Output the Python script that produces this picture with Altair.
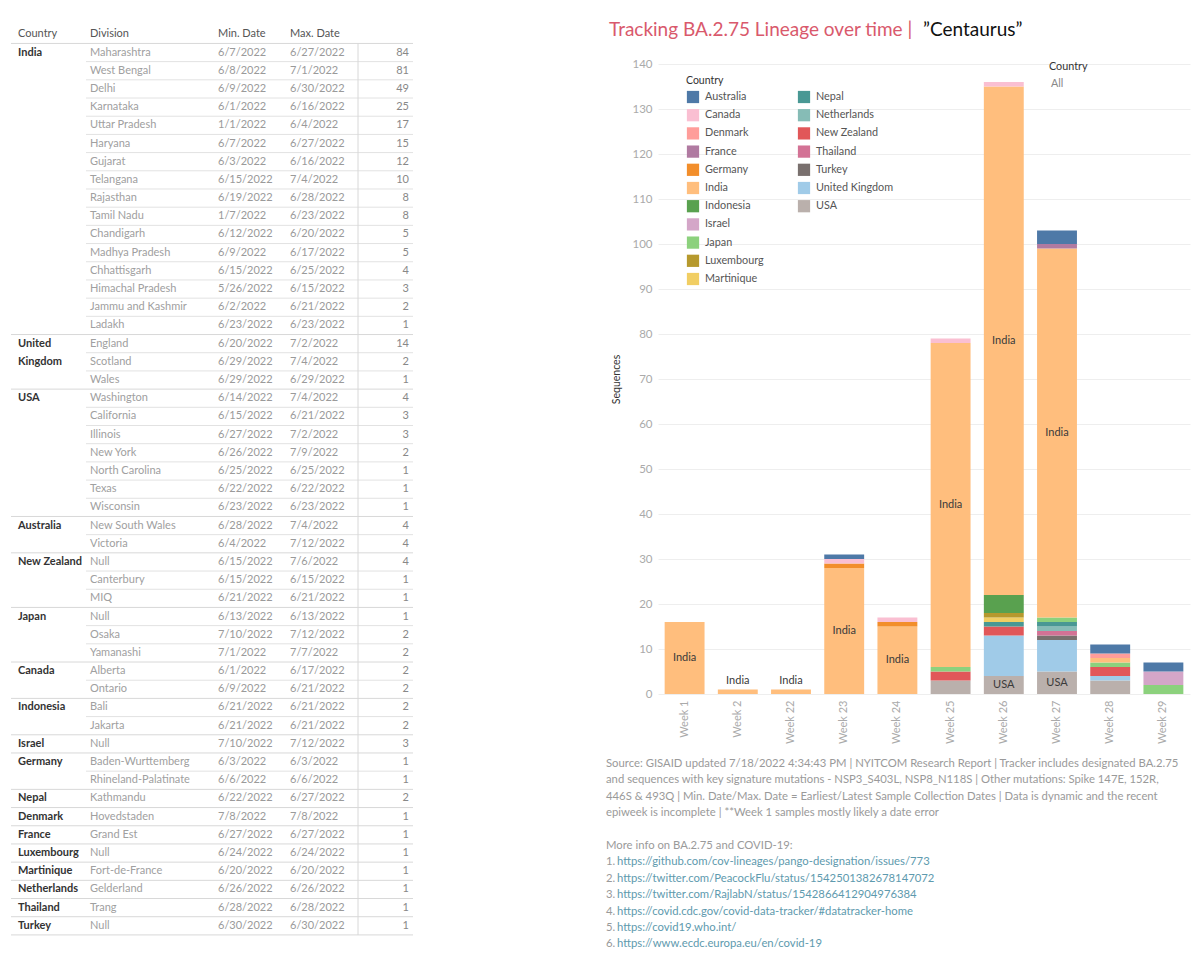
import altair as alt
import pandas as pd

FONT = "Lato"

# ---------------- bar chart data ----------------
weeks = ["Week 1", "Week 2", "Week 22", "Week 23", "Week 24",
         "Week 25", "Week 26", "Week 27", "Week 28", "Week 29"]
countries = ["Australia", "Canada", "Denmark", "France", "Germany", "India",
             "Indonesia", "Israel", "Japan", "Luxembourg", "Martinique",
             "Nepal", "Netherlands", "New Zealand", "Thailand", "Turkey",
             "United Kingdom", "USA"]
colors = ["#4E79A7", "#FABFD2", "#FF9D9A", "#B07AA1", "#F28E2B", "#FFBE7D",
          "#59A14F", "#D4A6C8", "#8CD17D", "#B6992D", "#F1CE63", "#499894",
          "#86BCB6", "#E15759", "#D37295", "#79706E", "#A0CBE8", "#BAB0AC"]

australia = [0, 0, 0, 1, 0, 0, 0, 3, 2, 2]
canada = [0, 0, 0, 1, 1, 1, 1, 0, 0, 0]
denmark = [0, 0, 0, 0, 0, 0, 0, 0, 1, 0]
france = [0, 0, 0, 0, 0, 0, 0, 1, 0, 0]
germany = [0, 0, 0, 1, 1, 0, 0, 0, 0, 0]
india = [16, 1, 1, 28, 15, 72, 113, 82, 1, 0]
indonesia = [0, 0, 0, 0, 0, 0, 4, 0, 0, 0]
israel = [0, 0, 0, 0, 0, 0, 0, 0, 0, 3]
japan = [0, 0, 0, 0, 0, 1, 0, 1, 1, 2]
luxembourg = [0, 0, 0, 0, 0, 0, 1, 0, 0, 0]
martinique = [0, 0, 0, 0, 0, 0, 1, 0, 0, 0]
nepal = [0, 0, 0, 0, 0, 0, 1, 1, 0, 0]
netherlands = [0, 0, 0, 0, 0, 0, 0, 1, 0, 0]
new_zealand = [0, 0, 0, 0, 0, 2, 2, 0, 2, 0]
thailand = [0, 0, 0, 0, 0, 0, 0, 1, 0, 0]
turkey = [0, 0, 0, 0, 0, 0, 0, 1, 0, 0]
united_kingdom = [0, 0, 0, 0, 0, 0, 9, 7, 1, 0]
usa = [0, 0, 0, 0, 0, 3, 4, 5, 3, 0]

series = dict(zip(countries, [australia, canada, denmark, france, germany, india,
                              indonesia, israel, japan, luxembourg, martinique,
                              nepal, netherlands, new_zealand, thailand, turkey,
                              united_kingdom, usa]))

# ---------------- table data ----------------
t_country = (["India"] * 16 + ["United Kingdom"] * 3 + ["USA"] * 7 + ["Australia"] * 2
             + ["New Zealand"] * 3 + ["Japan"] * 3 + ["Canada"] * 2 + ["Indonesia"] * 2
             + ["Israel"] + ["Germany"] * 2 + ["Nepal", "Denmark", "France", "Luxembourg",
                                                "Martinique", "Netherlands", "Thailand", "Turkey"])
t_division = ["Maharashtra", "West Bengal", "Delhi", "Karnataka", "Uttar Pradesh", "Haryana",
              "Gujarat", "Telangana", "Rajasthan", "Tamil Nadu", "Chandigarh", "Madhya Pradesh",
              "Chhattisgarh", "Himachal Pradesh", "Jammu and Kashmir", "Ladakh",
              "England", "Scotland", "Wales",
              "Washington", "California", "Illinois", "New York", "North Carolina", "Texas", "Wisconsin",
              "New South Wales", "Victoria",
              "Null", "Canterbury", "MIQ",
              "Null", "Osaka", "Yamanashi",
              "Alberta", "Ontario",
              "Bali", "Jakarta",
              "Null",
              "Baden-Wurttemberg", "Rhineland-Palatinate",
              "Kathmandu", "Hovedstaden", "Grand Est", "Null", "Fort-de-France", "Gelderland",
              "Trang", "Null"]
t_min = ["6/7/2022", "6/8/2022", "6/9/2022", "6/1/2022", "1/1/2022", "6/7/2022", "6/3/2022",
         "6/15/2022", "6/19/2022", "1/7/2022", "6/12/2022", "6/9/2022", "6/15/2022", "5/26/2022",
         "6/2/2022", "6/23/2022",
         "6/20/2022", "6/29/2022", "6/29/2022",
         "6/14/2022", "6/15/2022", "6/27/2022", "6/26/2022", "6/25/2022", "6/22/2022", "6/23/2022",
         "6/28/2022", "6/4/2022",
         "6/15/2022", "6/15/2022", "6/21/2022",
         "6/13/2022", "7/10/2022", "7/1/2022",
         "6/1/2022", "6/9/2022",
         "6/21/2022", "6/21/2022",
         "7/10/2022",
         "6/3/2022", "6/6/2022",
         "6/22/2022", "7/8/2022", "6/27/2022", "6/24/2022", "6/20/2022", "6/26/2022",
         "6/28/2022", "6/30/2022"]
t_max = ["6/27/2022", "7/1/2022", "6/30/2022", "6/16/2022", "6/4/2022", "6/27/2022", "6/16/2022",
         "7/4/2022", "6/28/2022", "6/23/2022", "6/20/2022", "6/17/2022", "6/25/2022", "6/15/2022",
         "6/21/2022", "6/23/2022",
         "7/2/2022", "7/4/2022", "6/29/2022",
         "7/4/2022", "6/21/2022", "7/2/2022", "7/9/2022", "6/25/2022", "6/22/2022", "6/23/2022",
         "7/4/2022", "7/12/2022",
         "7/6/2022", "6/15/2022", "6/21/2022",
         "6/13/2022", "7/12/2022", "7/7/2022",
         "6/17/2022", "6/21/2022",
         "6/21/2022", "6/21/2022",
         "7/12/2022",
         "6/3/2022", "6/6/2022",
         "6/27/2022", "7/8/2022", "6/27/2022", "6/24/2022", "6/20/2022", "6/26/2022",
         "6/28/2022", "6/30/2022"]
t_count = [84, 81, 49, 25, 17, 15, 12, 10, 8, 8, 5, 5, 4, 3, 2, 1,
           14, 2, 1,
           4, 3, 3, 2, 1, 1, 1,
           4, 4,
           4, 1, 1,
           1, 2, 2,
           2, 2,
           2, 2,
           3,
           1, 1,
           2, 1, 1, 1, 1, 1, 1, 1]

header_labels = ["Country", "Division", "Min. Date", "Max. Date"]

# ---------------- text data ----------------
title_red = "Tracking BA.2.75 Lineage over time | "
title_black = "\u201dCentaurus\u201d"
footer_lines = [
    "Source: GISAID updated 7/18/2022 4:34:43 PM | NYITCOM Research Report | Tracker includes designated BA.2.75",
    "and sequences with key signature mutations - NSP3_S403L, NSP8_N118S | Other mutations: Spike 147E, 152R,",
    "446S & 493Q | Min. Date/Max. Date = Earliest/Latest Sample Collection Dates | Data is dynamic and the recent",
    "epiweek is incomplete | **Week 1 samples mostly likely a date error",
    "",
    "More info on BA.2.75 and COVID-19:",
]
link_nums = ["1.", "2.", "3.", "4.", "5.", "6."]
links = [
    "https://github.com/cov-lineages/pango-designation/issues/773",
    "https://twitter.com/PeacockFlu/status/1542501382678147072",
    "https://twitter.com/RajlabN/status/1542866412904976384",
    "https://covid.cdc.gov/covid-data-tracker/#datatracker-home",
    "https://covid19.who.int/",
    "https://www.ecdc.europa.eu/en/covid-19",
]

one = pd.DataFrame({"a": [0]})


def label(text, x, y, size=11, color="#333333", align="left", **kw):
    return alt.Chart(one).mark_text(text=text, font=FONT, fontSize=size, color=color,
                                    align=align, **kw).encode(x=alt.value(x), y=alt.value(y))


# ================= build bar chart =================
rows = []
for wi, w in enumerate(weeks):
    base = 0
    total = sum(series[c][wi] for c in countries)
    for c in reversed(countries):
        v = series[c][wi]
        if v > 0:
            rows.append(dict(week=w, country=c, n=v, y0=base, y1=base + v, ymid=base + v / 2,
                             top=(base + v == total)))
            base += v
bars = pd.DataFrame(rows)
inside = bars[bars.country.isin(["India", "USA"]) & (bars.n >= 4)]
above = bars[(bars.country == "India") & (bars.n < 4) & bars.top]

color_scale = alt.Scale(domain=countries, range=colors)
x_scale = alt.Scale(domain=weeks, paddingInner=0.25, paddingOuter=0.125)
y_scale = alt.Scale(domain=[0, 140], nice=False)

x_axis = alt.Axis(title=None, labelAngle=270, labelColor="#aaaaaa", labelFontSize=11,
                  labelFont=FONT, ticks=False, domain=False, labelPadding=6, grid=False)
y_axis = alt.Axis(values=list(range(0, 141, 10)), title="Sequences", grid=True,
                  gridColor="#eeeeee", domain=False, ticks=False, labelColor="#aaaaaa",
                  labelFontSize=11.5, labelFont=FONT, labelPadding=6, titleColor="#333333",
                  titleFontWeight="normal", titleFontSize=10.5, titleFont=FONT, titlePadding=10)

bar_layer = alt.Chart(bars).mark_bar().encode(
    x=alt.X("week:N", scale=x_scale, axis=x_axis),
    y=alt.Y("y0:Q", scale=y_scale, axis=y_axis),
    y2="y1:Q",
    color=alt.Color("country:N", scale=color_scale, legend=None),
)

lab_in = alt.Chart(inside).mark_text(font=FONT, fontSize=11, color="#3a3a3a").encode(
    x=alt.X("week:N", scale=x_scale),
    y=alt.Y("ymid:Q", scale=y_scale),
    text="country:N",
)
lab_above = alt.Chart(above).mark_text(font=FONT, fontSize=11, color="#3a3a3a", dy=-9).encode(
    x=alt.X("week:N", scale=x_scale),
    y=alt.Y("y1:Q", scale=y_scale),
    text="country:N",
)

# manual legend, column-major like the original
legend_layers = [label("Country", 28, 17, size=10.5)]
for i, (c, col) in enumerate(zip(countries, colors)):
    cx = 0 if i < 11 else 1
    ry = i if i < 11 else i - 11
    lx = 35 + 111 * cx
    ly = 33 + 18.2 * ry
    legend_layers.append(
        alt.Chart(one).mark_square(size=150, opacity=1, color=col).encode(
            x=alt.value(lx), y=alt.value(ly)))
    legend_layers.append(label(c, lx + 12, ly, size=10.8, color="#555555"))

filter_layers = [label("Country", 391, 3, size=10.8), label("All", 393, 20, size=10.8, color="#888888")]

title_layers = [label(title_red, -49, -34, size=19, color="#D9596C"),
                label(title_black, 265, -34, size=19, color="#111111")]

footer_layers = []
for i, line in enumerate(footer_lines):
    if line:
        footer_layers.append(label(line, -52, 700 + 16.4 * i, size=11.3, color="#9a9a9a"))
for j, (num, url) in enumerate(zip(link_nums, links)):
    yy = 700 + 16.4 * (6 + j)
    footer_layers.append(label(num, -52, yy, size=11.3, color="#9a9a9a"))
    footer_layers.append(label(url, -41, yy, size=11.3, color="#5E9AAE"))

bar_chart = alt.layer(
    bar_layer, lab_in, lab_above, *legend_layers, *filter_layers, *title_layers, *footer_layers
).properties(width=532, height=630)

# ================= build table =================
tbl = pd.DataFrame({"country": t_country, "division": t_division, "mn": t_min,
                    "mx": t_max, "cnt": t_count})
tbl["r"] = range(len(tbl))
first = tbl["country"] != tbl["country"].shift(1)
tbl["label"] = [c.replace(" ", "\n") if c == "United Kingdom" else c for c in tbl["country"]]
firsts = tbl[first]

bounds_rows = []
n_rows = len(tbl)
for r in range(-1, n_rows):
    grp = (r == -1) or (r == n_rows - 1) or (tbl["country"].iloc[r + 1] != tbl["country"].iloc[r])
    bounds_rows.append(dict(b=r + 0.5, grp=bool(grp)))
bnd = pd.DataFrame(bounds_rows)

t_scale = alt.Scale(domain=[0.63, 48.45], reverse=True, nice=False, zero=False)
TY = alt.Y("r:Q", scale=t_scale, axis=None)

hdr = pd.DataFrame({"h": header_labels, "r": [-1] * 4})
hdr_layers = []
for hx, name in zip([7, 79, 207, 279], header_labels):
    hdr_layers.append(alt.Chart(hdr[hdr.h == name]).mark_text(
        font=FONT, fontSize=11, color="#555555", align="left").encode(
        x=alt.value(hx), y=TY, text="h:N"))

c_lab = alt.Chart(firsts).mark_text(font=FONT, fontSize=11, color="#333333", align="left",
                                    baseline="top", dy=-6, fontWeight="bold", lineBreak="\n",
                                    lineHeight=18).encode(x=alt.value(7), y=TY, text="label:N")
d_lab = alt.Chart(tbl).mark_text(font=FONT, fontSize=11, color="#a0a0a0", align="left").encode(
    x=alt.value(79), y=TY, text="division:N")
mn_lab = alt.Chart(tbl).mark_text(font=FONT, fontSize=11, color="#9a9a9a", align="left").encode(
    x=alt.value(207), y=TY, text="mn:N")
mx_lab = alt.Chart(tbl).mark_text(font=FONT, fontSize=11, color="#9a9a9a", align="left").encode(
    x=alt.value(279), y=TY, text="mx:N")
n_lab = alt.Chart(tbl).mark_text(font=FONT, fontSize=11, color="#888888", align="right").encode(
    x=alt.value(398), y=TY, text="cnt:Q")

g_lines = alt.Chart(bnd[bnd.grp]).mark_rule(color="#d8d8d8", strokeWidth=1).encode(
    x=alt.value(0), x2=alt.value(402), y=alt.Y("b:Q", scale=t_scale, axis=None))
i_lines = alt.Chart(bnd[~bnd.grp]).mark_rule(color="#e2e2e2", strokeWidth=1).encode(
    x=alt.value(75), x2=alt.value(402), y=alt.Y("b:Q", scale=t_scale, axis=None))
vspan = pd.DataFrame({"b0": [-0.5], "b1": [48.5]})
v_line = alt.Chart(vspan).mark_rule(color="#d8d8d8", strokeWidth=1).encode(
    x=alt.value(347), y=alt.Y("b0:Q", scale=t_scale, axis=None), y2="b1:Q")

table = alt.layer(g_lines, i_lines, v_line, *hdr_layers, c_lab, d_lab, mn_lab, mx_lab,
                  n_lab).properties(width=402, height=870)

chart = alt.hconcat(table, bar_chart, spacing=245, bounds="flush").configure_view(
    stroke=None).properties(padding={"left": 2, "top": 13, "right": 2, "bottom": 2})

chart.save("out.html", embed_options={"renderer": "svg", "actions": False})
